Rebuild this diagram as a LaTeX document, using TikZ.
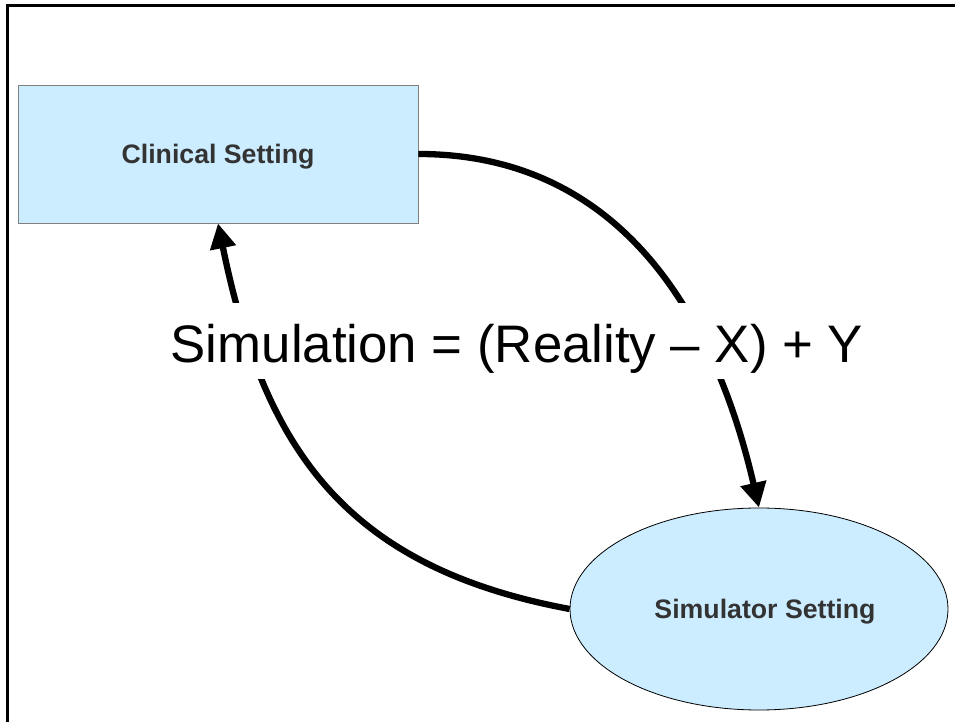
\documentclass[tikz,border=0pt]{standalone}
\usepackage{fontspec}
\setmainfont{Liberation Sans}
\usepackage{tikz}
\usetikzlibrary{arrows.meta, shapes.geometric}
\definecolor{boxblue}{HTML}{CCECFF}
\definecolor{labelgray}{HTML}{333333}

\begin{document}
\begin{tikzpicture}[x=1pt, y=1pt,
  setting/.style={fill=boxblue, text=labelgray, font=\fontsize{26.7}{30}\selectfont\bfseries,
    text height=19pt, text depth=0pt, line width=0.8pt},
  loop/.style={line width=6.3pt, -{Triangle[length=25pt, width=25pt]}}]

  \useasboundingbox (0,0) rectangle (955,722);
  % frame, cut at the right and bottom
  \draw[line width=3pt] (7,0) -- (7,716) -- (955,716);

  \node[setting, draw=gray, minimum width=400pt, minimum height=138pt] (clinical) at (218,568) {Clinical Setting};
  \node[setting, draw=black, ellipse, minimum width=378pt, minimum height=202pt] (simulator) at (759,113) {};
  \node[setting, fill=none, xshift=6pt] (simlabel) at (simulator.center) {Simulator Setting};

  % the two loops, under the equation
  \draw[loop] (clinical.east) .. controls +(200,0) and +(-45,195) .. (simulator.north);
  \draw[loop] (simulator.west) .. controls +(-225,42) and +(46,-225) .. (clinical.south);

  \node[fill=white, anchor=base, inner xsep=6pt, inner ysep=7pt, text height=53pt, text depth=9pt,
    font=\fontsize{52.8}{60}\selectfont] (equation) at (517,359) {Simulation = (Reality – X) + Y};

\end{tikzpicture}
\end{document}
